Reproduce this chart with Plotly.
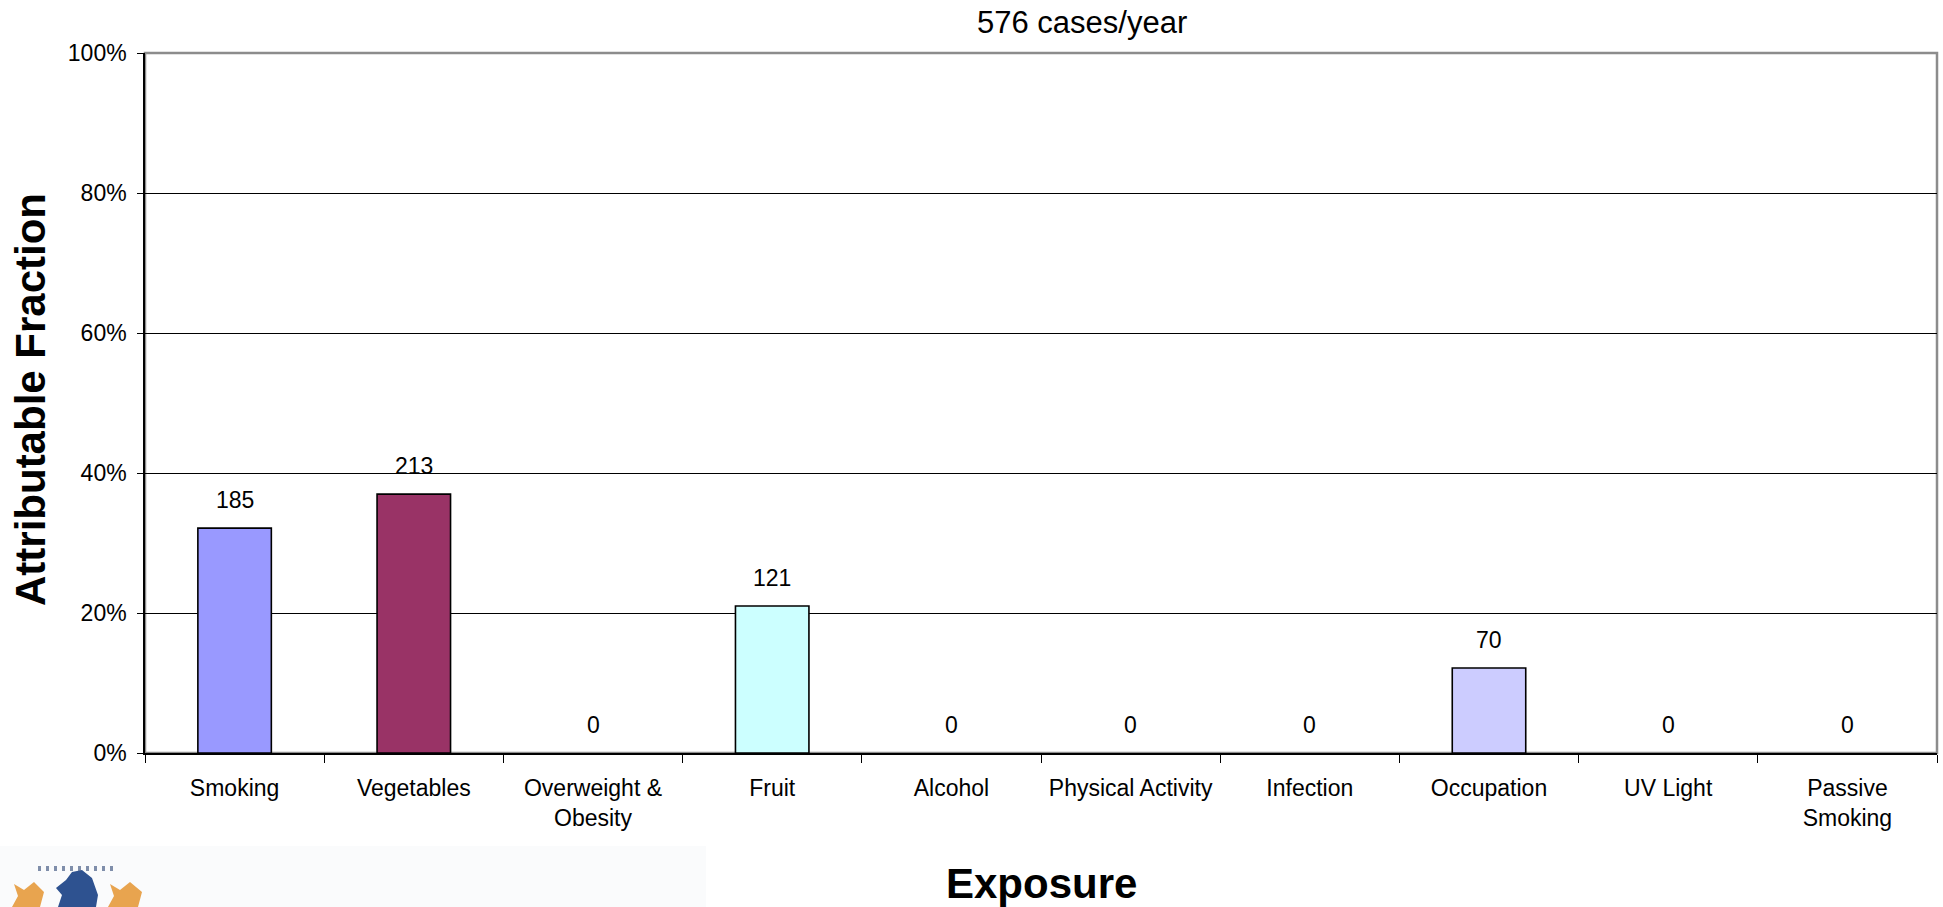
import plotly.graph_objects as go

# Exposure categories and attributable case counts (576 cases/year in total)
categories = ["Smoking", "Vegetables", "Overweight &<br>Obesity", "Fruit", "Alcohol",
              "Physical Activity", "Infection", "Occupation", "UV Light", "Passive<br>Smoking"]
cases = [185, 213, 0, 121, 0, 0, 0, 70, 0, 0]
total_cases = 576
bar_colors = ["#9999FF", "#993366", "#FFFFFF", "#CCFFFF", "#FFFFFF",
              "#FFFFFF", "#FFFFFF", "#CCCCFF", "#FFFFFF", "#FFFFFF"]
y_ticks = [0, 0.2, 0.4, 0.6, 0.8, 1.0]

fractions = [c / total_cases for c in cases]

W, H = 1943, 907
L, R, T, B = 145, 6, 53, 154
PW, PH = W - L - R, H - T - B


def px(x):
    return (x - L) / PW


def py(y):
    return (H - B - y) / PH


def poly(points):
    return "M " + " L ".join(f"{px(x):.5f},{py(y):.5f}" for x, y in points) + " Z"


fig = go.Figure()
fig.add_trace(go.Bar(
    x=categories, y=fractions,
    marker=dict(color=bar_colors, line=dict(color="#000000", width=1.6)),
    width=[0.0 if c == 0 else 0.41 for c in cases],
    hoverinfo="skip",
))

font = "Liberation Sans, Arial, sans-serif"

annotations = []
# value labels above each bar
for cat, frac, n in zip(categories, fractions, cases):
    annotations.append(dict(x=cat, y=frac, xref="x", yref="y", text=str(n),
                            showarrow=False, yanchor="middle", yshift=28,
                            font=dict(family=font, size=23, color="#000000")))
# chart title and axis titles
annotations.append(dict(x=px(1082), y=py(22), xref="paper", yref="paper",
                        text="576 cases/year", showarrow=False,
                        xanchor="center", yanchor="middle",
                        font=dict(family=font, size=31, color="#000000")))
annotations.append(dict(x=px(31), y=py(400), xref="paper", yref="paper",
                        text="<b>Attributable Fraction</b>", showarrow=False,
                        textangle=-90, xanchor="center", yanchor="middle",
                        font=dict(family=font, size=42, color="#000000")))
annotations.append(dict(x=px(1041), y=py(883), xref="paper", yref="paper",
                        text="<b>Exposure</b>", showarrow=False,
                        xanchor="center", yanchor="middle",
                        font=dict(family=font, size=42, color="#000000")))

shapes = [
    # plot area frame
    dict(type="rect", xref="paper", yref="paper", x0=0, x1=1, y0=0, y1=1,
         line=dict(color="#8C8C8C", width=2.5), layer="below"),
    # faint footer band of the crest
    dict(type="rect", xref="paper", yref="paper", x0=px(0), x1=px(706), y0=py(846), y1=py(907),
         fillcolor="#FAFBFC", line=dict(width=0), layer="below"),
    dict(type="path", xref="paper", yref="paper",
         path=poly([(72, 872), (82, 870), (92, 878), (98, 895), (96, 907), (58, 907),
                    (62, 895), (56, 888), (66, 880)]),
         fillcolor="#2E5290", line=dict(width=0)),
    dict(type="path", xref="paper", yref="paper",
         path=poly([(14, 884), (24, 890), (34, 882), (44, 892), (40, 907), (12, 907), (18, 896)]),
         fillcolor="#E69A3C", line=dict(width=0), opacity=0.9),
    dict(type="path", xref="paper", yref="paper",
         path=poly([(110, 884), (120, 890), (130, 882), (142, 892), (138, 907), (108, 907), (114, 896)]),
         fillcolor="#E69A3C", line=dict(width=0), opacity=0.9),
]
# small row of marks along the top of the crest
for k in range(10):
    x0 = 38 + k * 8
    shapes.append(dict(type="path", xref="paper", yref="paper",
                       path=poly([(x0, 866), (x0 + 3, 866), (x0 + 3, 871), (x0, 871)]),
                       fillcolor="#4A5F88", line=dict(width=0), opacity=0.7))

fig.update_layout(
    width=W, height=H, autosize=False,
    margin=dict(l=L, r=R, t=T, b=B, pad=0),
    paper_bgcolor="#FFFFFF", plot_bgcolor="#FFFFFF",
    showlegend=False, bargap=0.59,
    annotations=annotations, shapes=shapes,
    font=dict(family=font, size=23, color="#000000"),
)
fig.update_xaxes(
    type="category", showgrid=False, showline=True, linecolor="#000000", linewidth=1.5,
    ticks="outside", tickson="boundaries", ticklen=8, tickcolor="#000000", tickwidth=1,
    tickfont=dict(family=font, size=23, color="#000000"), ticklabelstandoff=14,
    zeroline=False, fixedrange=True,
)
fig.update_yaxes(
    range=[0, 1], tickvals=y_ticks, tickformat=".0%",
    showgrid=True, gridcolor="#000000", gridwidth=1.2,
    showline=True, linecolor="#000000", linewidth=1.5,
    ticks="outside", ticklen=6, tickcolor="#000000", tickwidth=1,
    tickfont=dict(family=font, size=23, color="#000000"), ticklabelstandoff=6,
    zeroline=False, fixedrange=True,
)

fig.write_html("out.html")
